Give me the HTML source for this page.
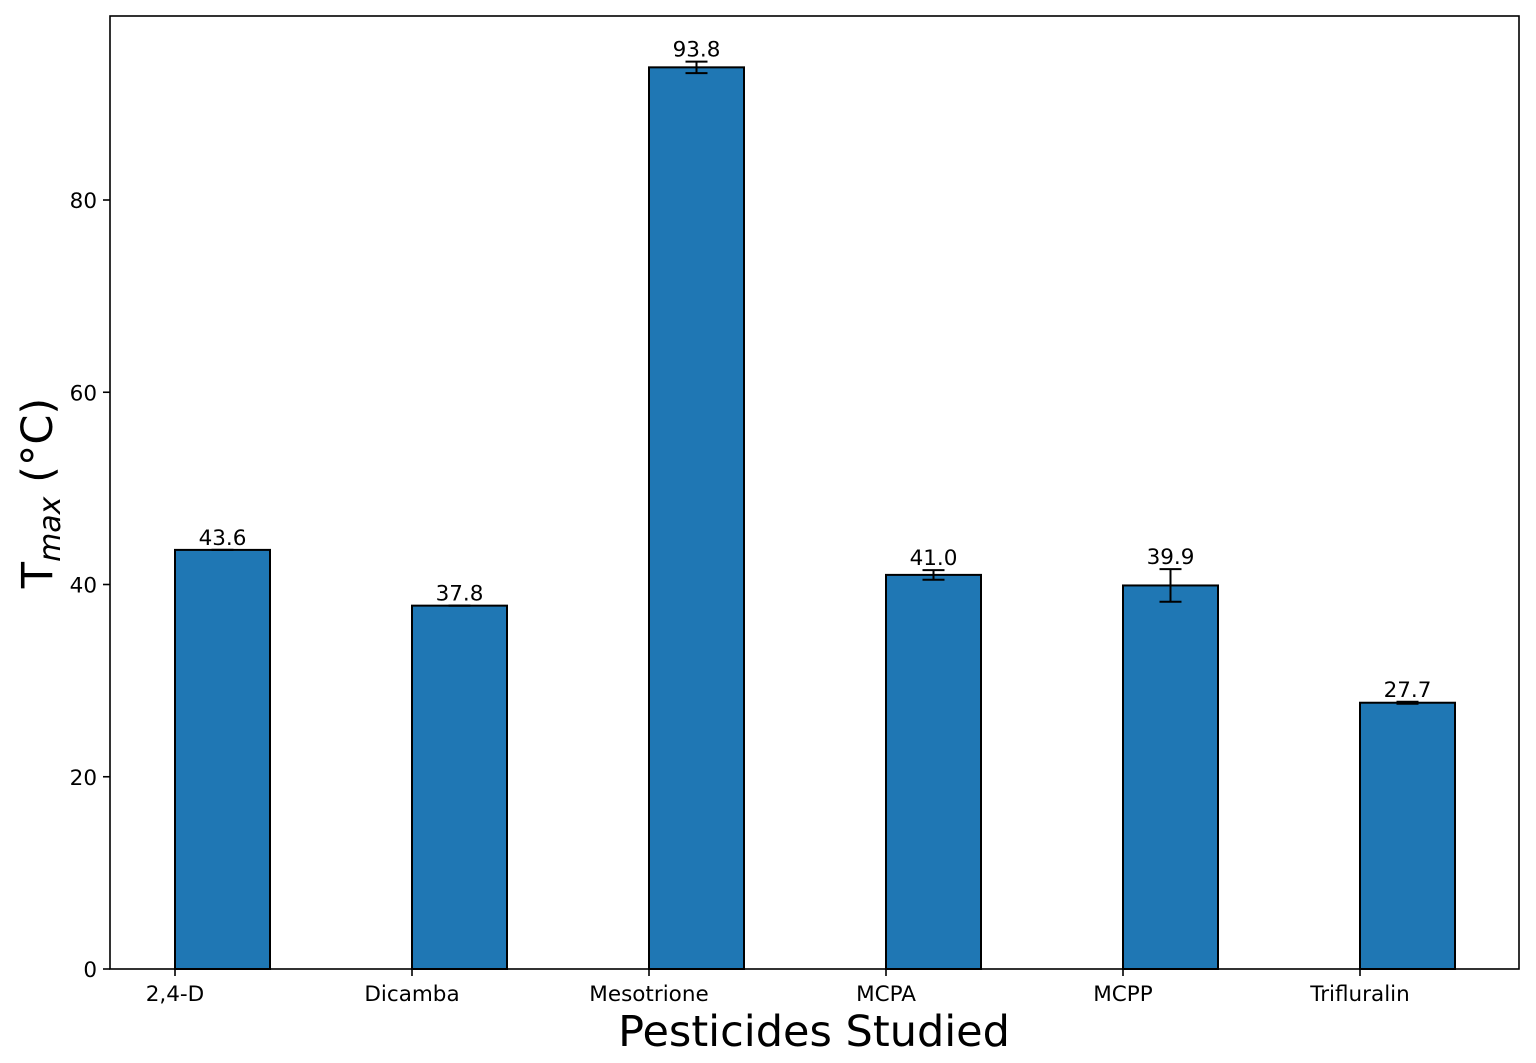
<!DOCTYPE html>
<html><head><meta charset="utf-8"><style>
html,body{margin:0;padding:0;background:#fff;}
svg{display:block;font-family:"DejaVu Sans","Liberation Sans",sans-serif;}
</style></head><body>
<svg id="chart" width="1536" height="1063" viewBox="0 0 1536 1063" xmlns="http://www.w3.org/2000/svg"></svg>
<script>
const categories = ["2,4-D","Dicamba","Mesotrione","MCPA","MCPP","Trifluralin"];
const values = [43.6, 37.8, 93.8, 41.0, 39.9, 27.7];
const errors = [0.0, 0.0, 0.6, 0.5, 1.7, 0.1];
const yTicks = [0, 20, 40, 60, 80];

const L=110, R=1519, T=16, B=969;
const x0=175, step=237, bw=95;
const yScale = v => B - v*(B-200)/80;
const xScale = i => x0 + i*step;
const NS="http://www.w3.org/2000/svg";
const svg=document.getElementById('chart');
function mk(tag, attrs, parent){const e=document.createElementNS(NS,tag);for(const k in attrs)e.setAttribute(k,attrs[k]);(parent||svg).appendChild(e);return e;}

const bars=mk('g',{});


categories.forEach((c,i)=>{
  const x=xScale(i), y=yScale(values[i]);
  const r=mk('rect',{x:x,y:y,width:bw,height:B-y,fill:'#1f77b4',stroke:'#000','stroke-width':2},bars);
  
  
  const cx=x+bw/2, e=errors[i];
  const eg=mk('g',{stroke:'#000','stroke-width':2},bars);
  
  
  mk('line',{x1:cx,x2:cx,y1:yScale(values[i]+e),y2:yScale(values[i]-e)},eg);
  mk('line',{x1:cx-11,x2:cx+11,y1:yScale(values[i]+e),y2:yScale(values[i]+e)},eg);
  mk('line',{x1:cx-11,x2:cx+11,y1:yScale(values[i]-e),y2:yScale(values[i]-e)},eg);
  const t=mk('text',{x:cx,y:yScale(values[i]+e)-5,'text-anchor':'middle','font-size':21.5,fill:'#000'});
  t.textContent=values[i].toFixed(1);
  
  
  const tk=mk('line',{x1:x,x2:x,y1:B,y2:B+7,stroke:'#000','stroke-width':1.6});
  
  
  const tl=mk('text',{x:x,y:B+32,'text-anchor':'middle','font-size':21.5,fill:'#000'});
  tl.textContent=c;
  
  
});
yTicks.forEach(v=>{
  const y=yScale(v);
  const tk=mk('line',{x1:L-7,x2:L,y1:y,y2:y,stroke:'#000','stroke-width':1.6});
  
  
  const tl=mk('text',{x:L-13,y:y+8,'text-anchor':'end','font-size':21.5,fill:'#000'});
  tl.textContent=v;
  
  
});
const frame=mk('rect',{x:L,y:T,width:R-L,height:B-T,fill:'none',stroke:'#000','stroke-width':1.6});


const xt=mk('text',{x:814,y:1046,'text-anchor':'middle','font-size':43,fill:'#000'});
xt.textContent='Pesticides Studied';


const yt=mk('text',{x:0,y:0,transform:'translate(52,493) rotate(-90)','text-anchor':'middle','font-size':43,fill:'#000'});
yt.innerHTML='T<tspan font-style="italic" font-size="30" dy="8">max</tspan><tspan dy="-8"> (°C)</tspan>';


</script>
</body></html>
